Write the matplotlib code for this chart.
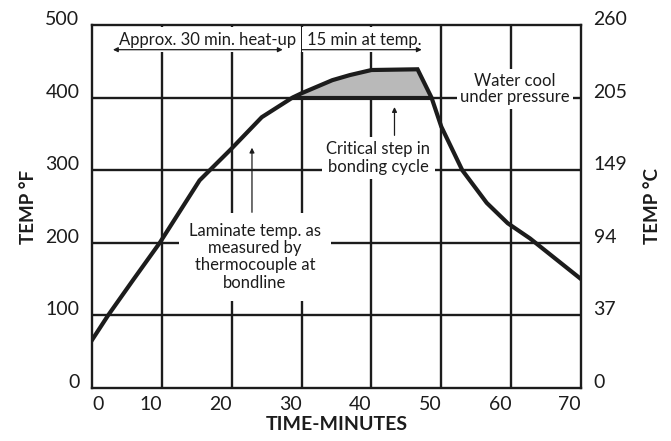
import numpy as np
import matplotlib
matplotlib.use("Agg")
import matplotlib.pyplot as plt

plt.rcParams['font.family'] = ['Lato', 'DejaVu Sans']

# laminate temperature
time_min = [0, 2.3, 5.9, 9.7, 15.4, 20, 24.3, 28.7, 30, 34.4, 36.9, 40, 46.6, 48.6, 50, 51.5, 53, 56.5, 59.5, 62.7, 70]
temp_f = [66, 100, 149, 200, 286, 330, 373, 400, 406, 424, 431, 438, 439, 400, 360, 330, 300, 255, 227, 206, 150]

x_ticks = [0, 10, 20, 30, 40, 50, 60, 70]
f_ticks = [0, 100, 200, 300, 400, 500]
c_labels = ['0', '37', '94', '149', '205', '260']
bond_temp = 400

ink = '#1c1c1c'
grid_lw = 1.7
curve_lw = 3.0

fig = plt.figure(figsize=(6.71, 4.41), dpi=100)
ax = fig.add_axes([0.1371, 0.1202, 0.7288, 0.8231])
ax.set_xlim(0, 70)
ax.set_ylim(0, 500)

# grid
for xv in x_ticks[1:-1]:
    ax.axvline(xv, color=ink, lw=grid_lw, zorder=1)
for yv in f_ticks[1:-1]:
    ax.axhline(yv, color=ink, lw=grid_lw, zorder=1)

# shaded critical region above 400F
t = np.array(time_min, dtype=float)
f = np.array(temp_f, dtype=float)
ax.fill_between(t, f, bond_temp, where=f >= bond_temp, interpolate=True,
                color='#b9b9b9', zorder=3, lw=0)
i_peak = int(np.argmax(f))
t_up = np.interp(bond_temp, f[:i_peak + 1], t[:i_peak + 1])
t_down = np.interp(bond_temp, f[i_peak:][::-1], t[i_peak:][::-1])
ax.plot([t_up, t_down], [bond_temp, bond_temp], color=ink, lw=curve_lw, zorder=4,
        solid_capstyle='butt')

ax.plot(t, f, color=ink, lw=curve_lw, zorder=5, solid_joinstyle='miter')

# annotations (white boxes break the grid like the original)
txt = dict(fontsize=12, color=ink, zorder=2, ha='center', va='center')
arrow = dict(color=ink, lw=0.9, mutation_scale=7, shrinkA=0, shrinkB=0)

ax.text(16.6, 480, 'Approx. 30 min. heat-up', bbox=dict(boxstyle='square,pad=0.25', fc='white', ec='none'), **txt)
ax.text(38.9, 480, '15 min at temp.', bbox=dict(boxstyle='square,pad=0.25', fc='white', ec='none'), **txt)
ax.annotate('', xy=(3.0, 466), xytext=(27.3, 466), arrowprops=dict(arrowstyle='<|-|>', **arrow), zorder=6)
ax.annotate('', xy=(47.2, 466), xytext=(30, 466), arrowprops=dict(arrowstyle='-|>', **arrow), zorder=6)

ax.text(23.3, 181, 'Laminate temp. as\nmeasured by\nthermocouple at\nbondline', linespacing=1.1,
        bbox=dict(boxstyle='square,pad=0.6', fc='white', ec='none'), **txt)
ax.text(41.0, 317, 'Critical step in\nbonding cycle', linespacing=1.1,
        bbox=dict(boxstyle='square,pad=0.25', fc='white', ec='none'), **txt)
ax.text(60.5, 412, 'Water cool\nunder pressure', linespacing=1.05,
        bbox=dict(boxstyle='square,pad=0.2', fc='white', ec='none'), **txt)

ax.annotate('', xy=(22.9, 331), xytext=(22.9, 242), arrowprops=dict(arrowstyle='-|>', **arrow), zorder=6)
ax.annotate('', xy=(43.3, 387), xytext=(43.3, 348), arrowprops=dict(arrowstyle='-|>', **arrow), zorder=6)

# axes and labels
for sp in ax.spines.values():
    sp.set_linewidth(grid_lw)
    sp.set_color(ink)
    sp.set_zorder(7)

ax.set_xticks(x_ticks)
ax.set_yticks(f_ticks)
ax.tick_params(length=0, labelsize=14, colors=ink)
ax.tick_params(axis='y', pad=9)
ax.tick_params(axis='x', pad=6)
for lbl in ax.get_xticklabels():
    lbl.set_ha('right' if lbl.get_text() != '0' else 'left')
for lbl in ax.get_yticklabels():
    lbl.set_va('baseline')

ax2 = ax.twinx()
ax2.set_ylim(ax.get_ylim())
ax2.set_yticks(f_ticks)
ax2.set_yticklabels(c_labels)
ax2.tick_params(length=0, labelsize=14, colors=ink, pad=9)
for lbl in ax2.get_yticklabels():
    lbl.set_va('baseline')
for sp in ax2.spines.values():
    sp.set_visible(False)

ax.set_xlabel('TIME-MINUTES', fontsize=14, fontweight='bold', color=ink, labelpad=2)
ax.set_ylabel('TEMP °F', fontsize=13.5, fontweight='bold', color=ink, labelpad=6)
ax2.set_ylabel('TEMP °C', fontsize=13.5, fontweight='bold', color=ink, labelpad=12)

fig.savefig('out.png', dpi=100)
